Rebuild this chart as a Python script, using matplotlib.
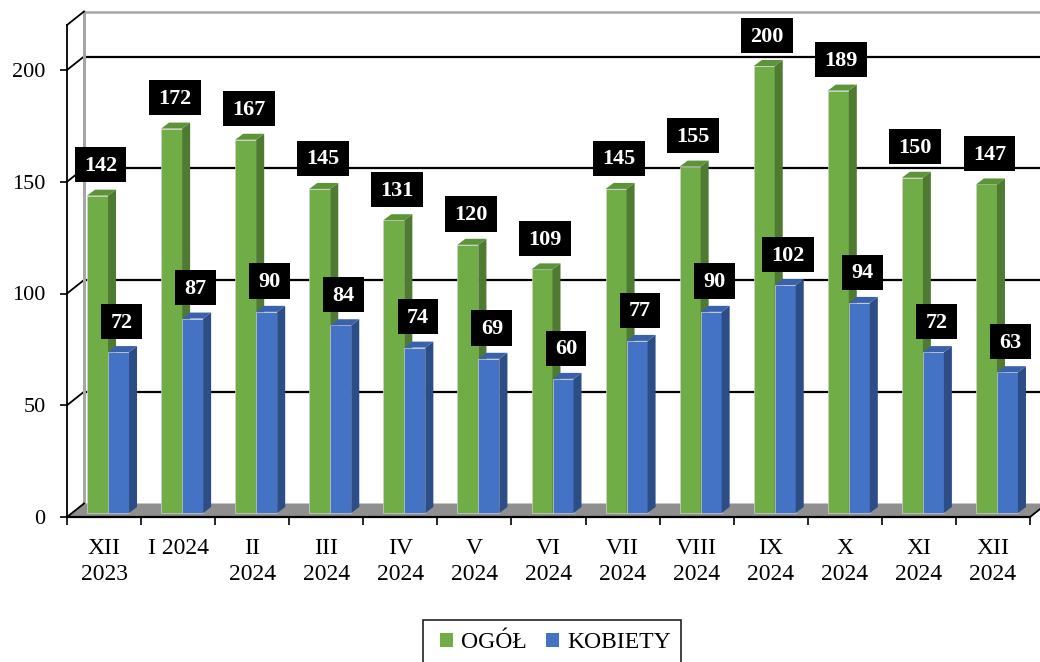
import matplotlib
matplotlib.use("Agg")
import matplotlib.pyplot as plt
from matplotlib.patches import Polygon, Rectangle
from matplotlib.path import Path
import numpy as np

# ---------------- data ----------------
categories = ["XII\n2023", "I 2024", "II\n2024", "III\n2024", "IV\n2024", "V\n2024",
              "VI\n2024", "VII\n2024", "VIII\n2024", "IX\n2024", "X\n2024", "XI\n2024",
              "XII\n2024"]
ogol = [142, 172, 167, 145, 131, 120, 109, 145, 155, 200, 189, 150, 147]
kobiety = [72, 87, 90, 84, 74, 69, 60, 77, 90, 102, 94, 72, 63]
series_names = ["OGÓŁ", "KOBIETY"]
y_ticks = [0, 50, 100, 150, 200]

# ---------------- style ----------------
plt.rcParams["font.family"] = ["Liberation Serif", "DejaVu Serif"]
FS = 16
FS_CAT = 17
GREEN = ("#70AD47", "#4E7A31", "#5E9439")   # front, side, top
BLUE = ("#4472C4", "#2C4D86", "#3A62AB")

W, H, DPI = 1040, 662, 100
fig = plt.figure(figsize=(W / DPI, H / DPI), dpi=DPI)

# layout in pixels
X0_PX, X1_PX, Y0_PX = 67, 1030, 517
PX_PER_UNIT = 2.235
n = len(categories)
ax = fig.add_axes([X0_PX / W, 1 - Y0_PX / H, (X1_PX - X0_PX) / W, Y0_PX / H])
ax.set_xlim(-0.5, n - 0.5)
ax.set_ylim(0, Y0_PX / PX_PER_UNIT)
ax.patch.set_visible(False)
for s in ax.spines.values():
    s.set_visible(False)

cat_px = (X1_PX - X0_PX) / n
DX = 17 / cat_px            # depth of the box (category units)
DY = 13.5 / PX_PER_UNIT     # depth of the box (value units)
TOP = (Y0_PX - 25) / PX_PER_UNIT
xl, xr = -0.5, n - 0.5

# back wall
for v in y_ticks[1:]:
    ax.plot([xl + DX, xr + DX], [v + DY] * 2, color="black", lw=1.6,
            clip_on=False, zorder=1, solid_capstyle="butt")
    ax.plot([xl, xl + DX], [v, v + DY], color="black", lw=1.3, clip_on=False, zorder=1)
ax.plot([xl + DX, xr + DX], [TOP + DY] * 2, color="#a6a6a6", lw=1.8, clip_on=False, zorder=1)
ax.plot([xl + DX] * 2, [DY, TOP + DY], color="#a6a6a6", lw=2.2, clip_on=False, zorder=1)
ax.plot([xl, xl + DX], [TOP, TOP + DY], color="black", lw=1.3, clip_on=False, zorder=1)
ax.plot([xl, xl], [0, TOP], color="black", lw=1.3, clip_on=False, zorder=1)

# floor
ax.add_patch(Polygon([(xl, 0), (xr, 0), (xr + DX, DY), (xl + DX, DY)], closed=True,
                     fc="#8f8f8f", ec="none", clip_on=False, zorder=2))
ax.plot([xl, xr], [0, 0], color="black", lw=1.6, clip_on=False, zorder=2.5)
ax.plot([xl, xl + DX], [0, DY], color="black", lw=1.3, clip_on=False, zorder=2.5)
ax.plot([xr, xr + DX], [0, DY], color="black", lw=1.3, clip_on=False, zorder=2.5)

# bars
BW = 21 / cat_px
SX = 4 / cat_px
SY = 4 / PX_PER_UNIT
BDX = 8 / cat_px
BDY = 6 / PX_PER_UNIT
x = np.arange(n)


def draw_series(vals, left, cols, z):
    ax.bar(left, vals, width=BW, bottom=SY, align="edge",
           color=cols[0], edgecolor="#d0d0d0", linewidth=0.5, zorder=z)
    for lx, v in zip(left, vals):
        rx = lx + BW
        ax.add_patch(Polygon([(rx, SY), (rx, v + SY), (rx + BDX, v + SY + BDY), (rx + BDX, SY + BDY)],
                             closed=True, fc=cols[1], ec="none", zorder=z + 0.05))
        ax.add_patch(Polygon([(lx, v + SY), (rx, v + SY), (rx + BDX, v + SY + BDY), (lx + BDX, v + SY + BDY)],
                             closed=True, fc=cols[2], ec="none", zorder=z + 0.05))


green_left = x + SX - BW
blue_left = x + SX
draw_series(ogol, green_left, GREEN, 3)
draw_series(kobiety, blue_left, BLUE, 3.2)


# data labels
def label_box(x0, y0, width, height, mutation_size):
    padx = 0.42 * mutation_size
    half = 0.79 * mutation_size
    yc = y0 + height / 2 + 0.06 * mutation_size
    return Path([(x0 - padx, yc - half), (x0 + width + padx, yc - half),
                 (x0 + width + padx, yc + half), (x0 - padx, yc + half),
                 (x0 - padx, yc - half)], closed=True)


LOFF = 23.5 / PX_PER_UNIT
LX = 3 / cat_px
for lefts, vals in ((green_left, ogol), (blue_left, kobiety)):
    for lx, v in zip(lefts, vals):
        ax.text(lx + BW / 2 + LX, v + SY + BDY + LOFF, str(v),
                ha="center", va="center", fontsize=FS, fontweight="bold", color="white",
                bbox=dict(boxstyle=label_box, fc="black", ec="none"), zorder=5)

# axes ticks
ax.set_yticks(y_ticks)
ax.tick_params(axis="y", length=5, width=1.2, pad=10.5, labelsize=FS, color="black")
ax.set_xticks(np.arange(-0.5, n, 1.0))
ax.set_xticklabels([])
ax.tick_params(axis="x", which="major", length=6, width=1.2, color="black")
ax.set_xticks(x, minor=True)
ax.set_xticklabels(categories, minor=True, fontsize=FS_CAT, linespacing=1.35)
ax.tick_params(axis="x", which="minor", length=0, pad=15)

# legend
handles = [Rectangle((0, 0), 1, 1, fc=GREEN[0]), Rectangle((0, 0), 1, 1, fc=BLUE[0])]
fig.legend(handles, series_names, loc="center", ncol=2, frameon=False,
           bbox_to_anchor=(555.5 / W, 1 - 643 / H), fontsize=FS_CAT,
           handlelength=0.55, handleheight=0.55, handletextpad=0.34, columnspacing=0.83)
fig.patches.append(Rectangle((423 / W, 1 - 672 / H), (681 - 423) / W, (672 - 620) / H,
                             transform=fig.transFigure, fill=False, ec="#222222", lw=1.2))

fig.savefig("out.png", dpi=DPI)
